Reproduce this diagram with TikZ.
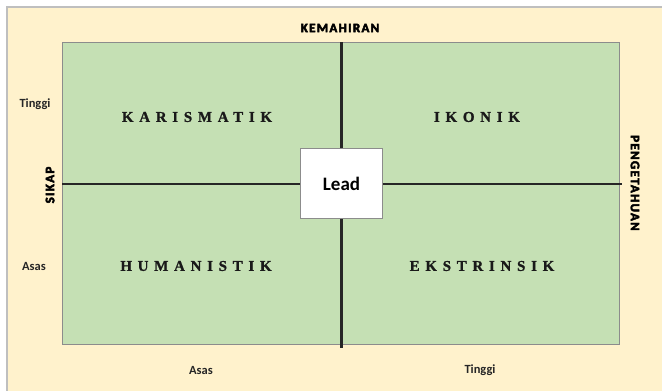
\documentclass[tikz,border=0pt]{standalone}
\usepackage{fontspec}
\setmainfont{Carlito}
\newfontfamily\quadfont[LetterSpace=38,FakeBold=1]{Liberation Serif}
\newfontfamily\axisfont[FakeBold=3.5,LetterSpace=10]{Carlito}
\definecolor{cream}{HTML}{FFF2CC}
\definecolor{leafgreen}{HTML}{C5E0B4}
\definecolor{edgegray}{HTML}{8C8C8C}
\tikzset{
  quadlabel/.style={font=\quadfont\bfseries\fontsize{15}{15}\selectfont, text=black!90},
  axistitle/.style={font=\axisfont\bfseries\fontsize{13}{13}\selectfont},
  levellabel/.style={font=\bfseries\fontsize{12.5}{12.5}\selectfont, text=black!85},
  axisline/.style={line width=2.4pt, black!85},
  leadbox/.style={draw=edgegray, line width=1.6pt, fill=white, minimum width=82pt, minimum height=70pt, font=\bfseries\fontsize{19}{19}\selectfont, inner sep=0pt}
}
\begin{document}
\begin{tikzpicture}[x=1pt,y=-1pt]
\useasboundingbox (0,0) rectangle (662,391);
% outer background
\fill[cream] (7,7) rectangle (662,391);
\draw[black!25, line width=1.5pt] (7,391) -- (7,7) -- (662,7);
% green field
\node[draw=edgegray, line width=1pt, fill=leafgreen, minimum width=557pt, minimum height=302pt, inner sep=0pt, anchor=north west] (field) at (62,42) {};
% axis lines
\coordinate (top) at (341.5,42);
\coordinate (bottom) at (341.5,348);
\coordinate (left) at (62,184);
\coordinate (right) at (622,184);
\draw[axisline] (top) -- (bottom);
\draw[axisline] (left) -- (right);
\node[leadbox] (lead) at (341.5,183.5) {Lead};
% quadrant labels
\node[quadlabel] (karis) at (197,117) {KARISMATIK};
\node[quadlabel] (ikon) at (477,117) {IKONIK};
\node[quadlabel] (human) at (196,266) {HUMANISTIK};
\node[quadlabel] (ekstr) at (482,266) {EKSTRINSIK};
% axis titles
\node[axistitle] (kemah) at (340,28) {KEMAHIRAN};
\node[axistitle, rotate=90] (sikap) at (50,185) {SIKAP};
\node[axistitle, rotate=-90] (penget) at (635,183) {PENGETAHUAN};
% level labels
\node[levellabel] (ytinggi) at (35,104) {Tinggi};
\node[levellabel] (yasas) at (34,266) {Asas};
\node[levellabel] (xasas) at (201,370) {Asas};
\node[levellabel] (xtinggi) at (480,370) {Tinggi};
\end{tikzpicture}
\end{document}
